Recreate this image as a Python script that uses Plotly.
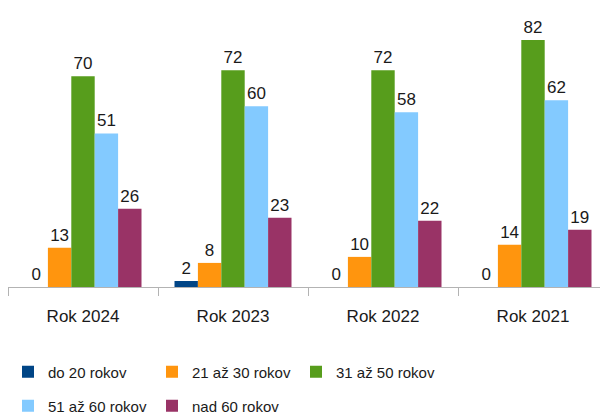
import plotly.graph_objects as go

categories = ["Rok 2024", "Rok 2023", "Rok 2022", "Rok 2021"]
series_names = ["do 20 rokov", "21 až 30 rokov", "31 až 50 rokov", "51 až 60 rokov", "nad 60 rokov"]
do20 = [0, 2, 0, 0]
r21_30 = [13, 8, 10, 14]
r31_50 = [70, 72, 72, 82]
r51_60 = [51, 60, 58, 62]
nad60 = [26, 23, 22, 19]
colors = ["#004586", "#ff950e", "#579d1c", "#83caff", "#993366"]

values = [do20, r21_30, r31_50, r51_60, nad60]
legends = ["legend", "legend", "legend", "legend2", "legend2"]

fig = go.Figure()
for name, vals, col, lg in zip(series_names, values, colors, legends):
    fig.add_trace(go.Bar(
        x=categories, y=vals, name=name,
        marker=dict(color=col, line=dict(width=0)),
        text=[str(v) for v in vals], textposition="outside",
        textfont=dict(family="Liberation Sans, Arial", size=17, color="#1a1a1a"),
        cliponaxis=False, legend=lg,
    ))

legend_common = dict(
    orientation="h", xref="container", yref="container",
    xanchor="left", yanchor="middle",
    font=dict(family="Liberation Sans, Arial", size=15, color="#1a1a1a"),
    entrywidth=99, entrywidthmode="pixels",
    bgcolor="rgba(0,0,0,0)", borderwidth=0,
)

fig.update_layout(
    width=608, height=412,
    margin=dict(l=0, r=8, t=8, b=133, autoexpand=False),
    paper_bgcolor="white", plot_bgcolor="white",
    barmode="group", bargap=0.22, bargroupgap=0,
    showlegend=True,
    legend=dict(x=0, y=1 - 364/412, **legend_common),
    legend2=dict(x=0, y=1 - 398/412, **legend_common),
    xaxis=dict(
        showline=True, linecolor="#b3b3b3", linewidth=1,
        ticks="outside", ticklen=8, tickcolor="#b3b3b3", tickson="boundaries",
        showgrid=False, ticklabelstandoff=14,
        tickfont=dict(family="Liberation Sans, Arial", size=17, color="#1a1a1a"),
    ),
    yaxis=dict(visible=False, range=[0, 90]),
    font=dict(family="Liberation Sans, Arial"),
)

fig.write_html("out.html")
